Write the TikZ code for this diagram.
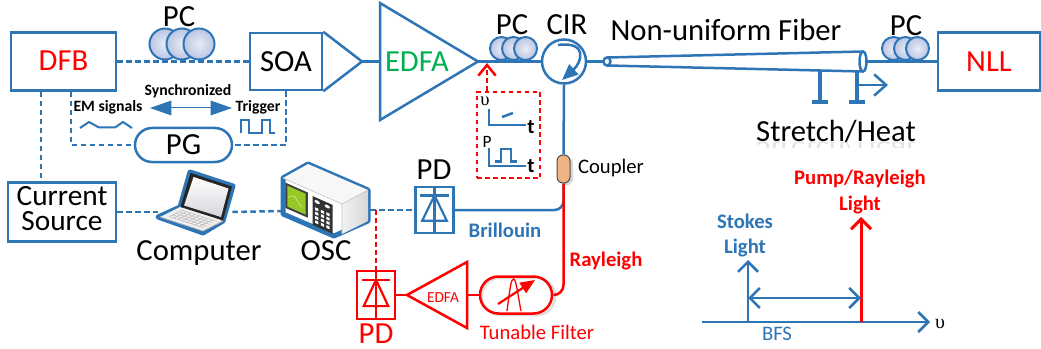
\documentclass[tikz,border=0pt]{standalone}
\usepackage{fontspec}
\setmainfont{Carlito}
\newfontfamily\greekserif{Liberation Serif}
\usetikzlibrary{arrows.meta,calc,shapes.misc}
\newdimen\pxu \pxu=0.75pt
\definecolor{lineblue}{RGB}{46,117,182}
\definecolor{sigred}{RGB}{255,0,0}
\definecolor{ampgreen}{RGB}{0,176,80}
\definecolor{pcfill}{RGB}{186,197,226}
\definecolor{pclight}{RGB}{232,236,247}
\definecolor{coupfill}{RGB}{240,180,130}
\definecolor{scopegreen}{RGB}{150,200,40}
\newcommand\fsbig{\fontsize{23}{25}\selectfont}
\newcommand\fscs{\fontsize{22}{24}\selectfont}
\newcommand\fsmid{\fontsize{15.5}{18}\selectfont}
\newcommand\fssmall{\fontsize{11.8}{13}\selectfont}
% three paddles of a polarization controller: x of first, y, radius, spacing
\newcommand\pcset[4]{\foreach \k in {0,1,2} \path[pcball] ({#1+\k*#4},#2) circle[radius=#3];}
% photodiode symbol inside a box node
\newcommand\diodesym[2]{%
  \draw[#2, line width=2.2\pxu] (#1.north) -- (#1.south);
  \draw[#2, line width=2.2\pxu] ($(#1.north west)!0.2!(#1.south west)+(6,0)$) -- ($(#1.north east)!0.2!(#1.south east)+(-6,0)$);
  \draw[#2, line width=2.2\pxu, line join=miter] ($(#1.north)!0.2!(#1.south)$) -- ($(#1.north west)!0.72!(#1.south west)+(8,0)$) -- ($(#1.north east)!0.72!(#1.south east)+(-8,0)$) -- cycle;}
% quadrilateral in the current (possibly skewed) unit frame
\newcommand\skewrect[5][]{\fill[#1] (#2,#3) -- (#4,#3) -- (#4,#5) -- (#2,#5) -- cycle;}

\begin{document}
\begin{tikzpicture}[x=0.75pt,y=-0.75pt,
  devbox/.style={draw=lineblue, line width=2.5\pxu, inner sep=0pt},
  fiber/.style={draw=lineblue, line width=2.5\pxu},
  redfiber/.style={draw=sigred, line width=2.5\pxu},
  elec/.style={draw=lineblue, line width=2.5\pxu, dash pattern=on 5.5\pxu off 3.5\pxu},
  redelec/.style={draw=sigred, line width=2.5\pxu, dash pattern=on 4.5\pxu off 3.5\pxu},
  lbl/.style={inner sep=0pt, font=\fsbig},
  midlbl/.style={inner sep=0pt, font=\fsmid},
  pcball/.style={draw=lineblue, line width=2\pxu, inner color=pclight, outer color=pcfill},
  openarrow/.style={-{Straight Barb[length=7.5pt,width=15pt]}},
  openboth/.style={{Straight Barb[length=7.5pt,width=15pt]}-{Straight Barb[length=7.5pt,width=15pt]}},
]
\useasboundingbox (0,0) rectangle (1041,349);

% ---------------- pulse source row ----------------
\node[devbox, minimum width=105\pxu, minimum height=58\pxu] (dfb) at (63.5,61.5) {};
\node[lbl, anchor=base, text=sigred] (dfbtxt) at (63.5,70.7) {DFB};
\node[devbox, minimum width=72\pxu, minimum height=57\pxu] (soa) at (286,61.5) {};
\node[lbl, anchor=base] (soatxt) at (286,72) {SOA};
\coordinate (soatip) at (362,61.5);
\draw[fiber, line join=miter] (soa.north east) -- (soatip) -- (soa.south east);
\draw[elec] (dfb.east) -- (soa.west);
\pcset{165}{44}{15.5}{17}
\node[lbl, anchor=base] (pc1) at (179,27) {PC};

% booster EDFA
\coordinate (edfain) at (380,61.5);
\coordinate (edfaout) at (478,61.5);
\draw[fiber, line join=miter] (380,3) -- (edfaout) -- (380,120) -- cycle;
\node[lbl, anchor=base, text=ampgreen] (edfatxt) at (417,72) {EDFA};
\draw[fiber] (soatip) -- (edfain);

% circulator
\node[circle, draw=lineblue, line width=2.5\pxu, minimum size=44\pxu, inner sep=0] (cir) at (564,61.5) {};
\node[lbl, anchor=base] (cirtxt) at (567,35) {CIR};
\draw[fiber] (edfaout) -- (cir.west);
\pcset{501.5}{48.5}{11.5}{12}
\node[lbl, anchor=base] (pc2) at (512,35) {PC};
\draw[lineblue, line width=2.5\pxu, -{Triangle[length=12pt,width=10pt]}] (558,45) .. controls (588,41) and (582,62) .. (562,80);

% tapered fibre under test
\coordinate (tin) at (603.5,61.5);
\coordinate (tout) at (866.5,61.5);
\draw[fiber] (cir.east) -- (tin);
\draw[fiber] (607,57.5) -- (863,51.5);
\draw[fiber] (607,65.5) -- (863,71.5);
\draw[fiber, fill=white] (607,61.5) ellipse[x radius=3.5, y radius=4];
\draw[fiber, fill=white] (863,61.5) ellipse[x radius=3.5, y radius=10];
\node[lbl, anchor=base] (nuf) at (726,41) {Non-uniform Fiber};
\node[devbox, minimum width=102\pxu, minimum height=58\pxu, text=sigred, font=\fsbig] (nll) at (989,61.5) {NLL};
\draw[fiber] (tout) -- (nll.west);
\pcset{893.5}{48.5}{11.5}{12}
\node[lbl, anchor=base] (pc3) at (906,36) {PC};

% stretch / heat clamps
\draw[lineblue, line width=3.5\pxu] (820,71) -- (820,102);
\draw[lineblue, line width=4.5\pxu] (812,102) -- (828,102);
\draw[lineblue, line width=3.5\pxu] (857,72) -- (857,102);
\draw[lineblue, line width=4.5\pxu] (849,102) -- (865,102);
\draw[lineblue, line width=2.5\pxu, -{Straight Barb[length=9pt,width=16pt]}] (857,85) -- (888,85);
\node[lbl, anchor=base] (sh) at (836,142) {Stretch/Heat};
\begin{scope}
  \clip (740,142.5) rectangle (930,148);
  \node[lbl, anchor=base, text=gray!22, yscale=-1, transform shape] (shmirror) at (836,142) {Stretch/Heat};
\end{scope}

% ---------------- timing electronics ----------------
\node[anchor=base, inner sep=0, font=\fssmall\bfseries] (sync) at (188,96) {Synchronized};
\coordinate (syncL) at (150,108);
\coordinate (syncR) at (232,108);
\draw[lineblue, line width=1\pxu, {Triangle[length=16pt,width=11pt]}-{Triangle[length=16pt,width=11pt]}] (syncL) -- (syncR);
\node[anchor=base, inner sep=0, font=\fssmall\bfseries] (emsig) at (108,112) {EM signals};
\node[anchor=base, inner sep=0, font=\fssmall\bfseries] (trig) at (258,112) {Trigger};
\draw[lineblue, line width=2\pxu] (80,128) -- (89,122) -- (99,127.5) -- (115,127.5) -- (123,122) -- (132,128);
\draw[lineblue, line width=2\pxu] (241,133) -- (241,120) -- (249,120) -- (249,133) -- (262,133) -- (262,120) -- (270,120) -- (270,133) -- (275,133);

\node[draw=lineblue, line width=2.5\pxu, rounded rectangle, minimum width=97\pxu, minimum height=34\pxu, inner sep=0, font=\fsbig] (pg) at (183.5,145) {PG};
\draw[elec] (soa.south) |- (pg.east);
\draw[elec] ([xshift=5.625pt]dfb.south) |- (pg.west);

\node[devbox, minimum width=108\pxu, minimum height=59\pxu] (cs) at (62,212) {};
\node[inner sep=0pt, font=\fscs, anchor=base] (csa) at (62,205) {Current};
\node[inner sep=0pt, font=\fscs, anchor=base] (csb) at (62,230) {Source};
\draw[elec] ([xshift=-16.875pt]dfb.south) -- ([xshift=-16.875pt]dfb.south |- cs.north);

\node[minimum width=74\pxu, minimum height=60\pxu, inner sep=0] (laptop) at (195,212) {};
\node[minimum width=88\pxu, minimum height=70\pxu, inner sep=0] (osc) at (326,211) {};
\node[devbox, minimum width=38\pxu, minimum height=46\pxu] (pd1) at (434.5,210) {};
\draw[elec] (cs.east) -- (laptop.west);
\draw[elec] (laptop.east) -- (osc.west);
\draw[elec] (osc.east |- pd1.west) -- (pd1.west);
\diodesym{pd1}{lineblue}
\node[lbl, anchor=base] (pd1txt) at (434,180) {PD};
\node[lbl, anchor=base] (comptxt) at (199,260) {Computer};
\node[lbl, anchor=base] (osctxt) at (326,260) {OSC};

% laptop icon
\draw[lineblue, line width=5\pxu, line join=round, fill=white] (190,172) -- (233,186) -- (223,221) -- (203,233) -- (158,217) -- (180,207) -- cycle;
\fill[gray!12] (180,207) -- (223,221) -- (203,231) -- (160,217) -- cycle;
\begin{scope}[shift={(180,207)}, x={(32.25pt,-10.5pt)}, y={(-15pt,-7.5pt)}]
  \foreach \u in {0.12,0.22,...,0.92} \draw[gray!55, line width=0.4pt] (\u,0.15) -- (\u,0.8);
  \foreach \w in {0.15,0.31,...,0.8} \draw[gray!55, line width=0.4pt] (0.12,\w) -- (0.92,\w);
\end{scope}
\draw[gray!60, line width=0.6pt] (160,217) -- (203,231) -- (223,221);
\fill[black!85] (190.5,173) -- (232,186.5) -- (223,220.5) -- (180.5,207) -- cycle;
\shade[top color=white, bottom color=blue!10!gray!30] (193.5,177) -- (228.5,188.5) -- (221,217) -- (184,205.5) -- cycle;

% oscilloscope icon
\draw[lineblue, line width=5\pxu, line join=round, fill=white] (283,178) -- (308,164) -- (368,190) -- (368,221) -- (334,236) -- (283,214) -- cycle;
\fill[gray!6] (283,178) -- (308,164) -- (368,190) -- (342,204) -- cycle;
\shade[left color=gray!10, right color=gray!32] (342,204) -- (368,190) -- (368,221) -- (342,234) -- cycle;
\draw[gray!45, line width=0.5pt] (283,178) -- (342,204) -- (342,234);
\draw[gray!45, line width=0.5pt] (342,204) -- (368,190);
\begin{scope}[shift={(283,178)}, x={(44.25pt,-19.5pt)}, y={(0pt,-27pt)}]
  \skewrect[black!75]{0.04}{0.1}{0.42}{0.8}
  \skewrect[scopegreen]{0.075}{0.16}{0.385}{0.74}
  \draw[white!60!scopegreen, line width=0.4pt] (0.09,0.47) sin (0.17,0.37) cos (0.25,0.47) sin (0.33,0.57);
  \skewrect[black!80]{0.5}{0.14}{0.84}{0.94}
  \fill[white] (0.58,0.25) circle[radius=0.045];
  \fill[white] (0.75,0.25) circle[radius=0.045];
  \foreach \i in {0,1,2} {\foreach \j in {0,1,2,3} {\skewrect[white]{0.545+\i*0.095}{0.42+\j*0.12}{0.6+\i*0.095}{0.495+\j*0.12}}}
\end{scope}

% ---------------- detection ----------------
\fill[gray!30, rounded corners=6\pxu] (560,157) rectangle (573,185);
\node[draw=gray!60!black, line width=1\pxu, fill=coupfill, rounded corners=6\pxu, minimum width=13\pxu, minimum height=28\pxu, inner sep=0] (coupler) at (563.5,169) {};
\node[midlbl, anchor=base] (couptxt) at (611,173) {Coupler};
\draw[fiber] (cir.south) -- (coupler.north);
\draw[fiber, rounded corners=9\pxu] (pd1.east) -| (coupler.south);
\node[midlbl, anchor=base, text=lineblue, font=\fsmid\bfseries] (brtxt) at (505,237) {Brillouin};

% chirped pulse inset
\node[redelec, minimum width=63\pxu, minimum height=86\pxu, inner sep=0] (chirp) at (508.5,135) {};
\coordinate (inj) at (487,63);
\draw[redelec, -{Straight Barb[length=8pt,width=13pt]}] (chirp.north -| inj) -- (inj);
\node[inner sep=0, font=\greekserif\fontsize{14}{14}\selectfont] (nu1) at (485,101) {υ};
\draw[lineblue, line width=2.5\pxu] (489,109) -- (489,125) -- (526,125);
\draw[lineblue, line width=2.5\pxu] (502,117) -- (513,113);
\node[anchor=base, inner sep=0, font=\fontsize{15.5}{15}\selectfont\bfseries] (t1) at (531,133) {t};
\node[inner sep=0, font=\fontsize{13}{13}\selectfont] (p1) at (487,141.5) {P};
\draw[lineblue, line width=2.5\pxu] (489,148) -- (489,166) -- (526,166);
\draw[lineblue, line width=2.2\pxu] (495,161.5) -- (501,161.5) -- (501,149) -- (511,149) -- (511,161.5) -- (517,161.5);
\node[anchor=base, inner sep=0, font=\fontsize{15.5}{15}\selectfont\bfseries] (t2) at (531,172) {t};

% Rayleigh branch
\node[draw=sigred, line width=2.5\pxu, minimum width=38\pxu, minimum height=48\pxu, inner sep=0] (pd2) at (376,295) {};
\diodesym{pd2}{sigred}
\node[lbl, anchor=base, text=sigred] (pd2txt) at (376,343) {PD};
\draw[redelec] (pd2.north |- pd1.west) -- (pd2.north);
\coordinate (rA) at (407,295);
\coordinate (rB) at (467,295);
\draw[redfiber, line join=miter] (rA) -- (467,262) -- (467,328) -- cycle;
\node[anchor=base, inner sep=0, text=sigred, font=\fontsize{11.5}{12}\selectfont] (redtxt) at (443,302) {EDFA};
\draw[redfiber] (pd2.east) -- (rA);
\draw[gray!25, line width=2.5\pxu, rounded corners=18\pxu] (482,278) rectangle (555,315);
\node[draw=sigred, line width=2.5\pxu, rounded rectangle, minimum width=72\pxu, minimum height=37\pxu, inner sep=0] (filter) at (516,295) {};
\draw[redfiber] (rB) -- (filter.west);
\draw[sigred, line width=1.3\pxu] (507,311) .. controls (510,288) and (511,279) .. (513.5,279) .. controls (516,279) and (517,290) .. (521,311);
\draw[sigred, line width=2.2\pxu, -{Triangle[length=11pt,width=9pt]}] (498,304) -- (535,280);
\node[midlbl, anchor=base, text=sigred] (tftxt) at (537,339) {Tunable Filter};
\draw[redfiber, rounded corners=10\pxu] (filter.east) -| (coupler.south);
\node[midlbl, anchor=base, text=sigred, font=\fsmid\bfseries] (raytxt) at (606,266) {Rayleigh};

% ---------------- spectrum sketch ----------------
\coordinate (ax0) at (702,322);
\coordinate (ax1) at (930,322);
\coordinate (stb) at (748,322);
\coordinate (stt) at (748,260);
\coordinate (pmb) at (861,322);
\coordinate (pmt) at (861,217);
\draw[lineblue, line width=2.5\pxu, openarrow] (ax0) -- (ax1);
\node[anchor=base, inner sep=0, font=\greekserif\fontsize{15}{15}\selectfont] (nuax) at (940,328) {υ};
\draw[lineblue, line width=2.5\pxu, openarrow] (stb) -- (stt);
\draw[sigred, line width=3\pxu, openarrow] (pmb) -- (pmt);
\draw[lineblue, line width=2.5\pxu, openboth] (stb |- 0,298) -- (pmb |- 0,298);
\node[midlbl, anchor=base, text=lineblue] (bfs) at (777,340) {BFS};
\node[midlbl, anchor=base, text=lineblue, font=\fsmid\bfseries] (stk1) at (745,228) {Stokes};
\node[midlbl, anchor=base, text=lineblue, font=\fsmid\bfseries] (stk2) at (745,253) {Light};
\node[midlbl, anchor=base, text=sigred, font=\fsmid\bfseries] (pmp1) at (860,185) {Pump/Rayleigh};
\node[midlbl, anchor=base, text=sigred, font=\fsmid\bfseries] (pmp2) at (860,210) {Light};
\end{tikzpicture}
\end{document}
